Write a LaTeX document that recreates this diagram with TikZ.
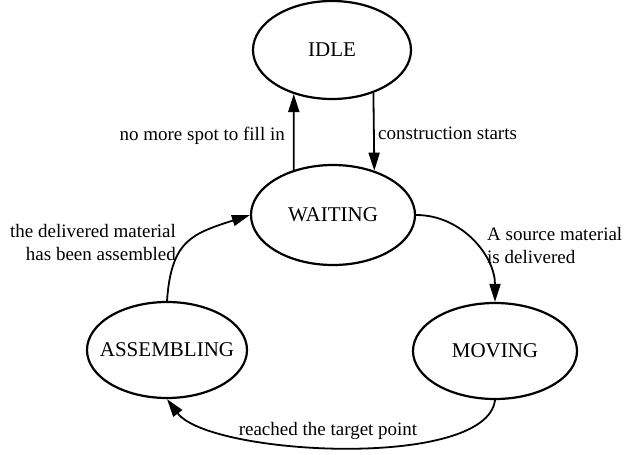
\documentclass[tikz,border=0pt]{standalone}
\usepackage{fontspec}
\setmainfont{Liberation Serif}
\usetikzlibrary{arrows.meta,shapes.geometric}
\begin{document}
\begin{tikzpicture}[x=1pt,y=-1pt,
  state/.style={draw, ellipse, line width=2.2pt, inner sep=0pt, font=\fontsize{21}{25}\selectfont},
  arr/.style={line width=1.8pt, -{Triangle[length=18pt,width=11pt]}},
  lbl/.style={inner sep=0pt, font=\fontsize{19}{23}\selectfont}]
\useasboundingbox (0,0) rectangle (624,455);
\node[state, minimum width=158pt, minimum height=98pt] (idle) at (332,50) {\makebox[0pt]{IDLE}};
\node[state, minimum width=164pt, minimum height=100pt] (waiting) at (333,215) {\makebox[0pt]{WAITING}};
\node[state, minimum width=160pt, minimum height=96pt] (assembling) at (167,350) {\makebox[0pt]{ASSEMBLING}};
\node[state, minimum width=164pt, minimum height=96pt] (moving) at (495,351) {\makebox[0pt]{MOVING}};

\draw[arr] (waiting.131) -- (idle.229);
\draw[arr] (idle.-46) -- (waiting.47);
\draw[arr] (waiting.east) to[out=0, in=90] (moving.north);
\draw[arr] (moving.south) to[out=-97, in=-53, looseness=0.55] (assembling.south);
\draw[arr] (assembling.north) to[out=86, in=198, looseness=1.3] (waiting.west);

\node[lbl, anchor=base east] (l1) at (285,140) {no more spot to fill in};
\node[lbl, anchor=base west] (l2) at (378,139) {construction starts};
\node[lbl, align=left, anchor=north west] (l3) at (487,227) {A source material\\is delivered};
\node[lbl, align=right, anchor=north east] (l4) at (176,224) {the delivered material\\has been assembled};
\node[lbl, anchor=base] (l5) at (328,435) {reached the target point};
\end{tikzpicture}
\end{document}
